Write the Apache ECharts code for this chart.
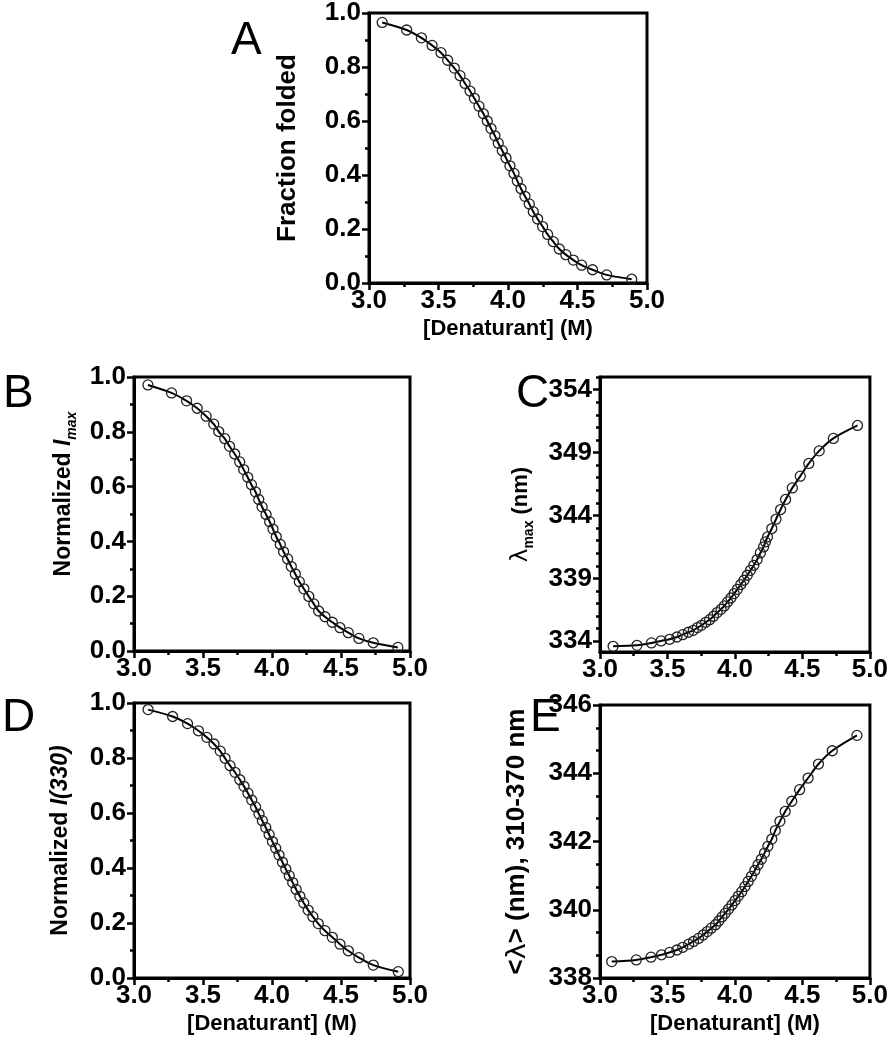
<!DOCTYPE html>
<html>
<head>
<meta charset="utf-8">
<script src="https://cdn.jsdelivr.net/npm/echarts@6/dist/echarts.min.js"></script>
<style>
html,body{margin:0;padding:0;background:#fff;}
#chart{width:891px;height:1050px;}
</style>
</head>
<body>
<div id="chart"></div>
<script>
// ---- Data ----
const xTicks = [3.0, 3.5, 4.0, 4.5, 5.0];
const fracTicks = [0.0, 0.2, 0.4, 0.6, 0.8, 1.0];
const lambdaMaxTicks = [334, 339, 344, 349, 354];
const meanLambdaTicks = [338, 340, 342, 344, 346];

// A: Fraction folded
const xA = [3.095,3.271,3.377,3.454,3.518,3.566,3.614,3.655,3.691,3.727,3.758,3.791,3.823,3.851,3.878,3.906,3.930,3.959,3.986,4.014,4.043,4.067,4.094,4.122,4.153,4.182,4.213,4.249,4.285,4.326,4.369,4.416,4.470,4.530,4.608,4.710,4.890];
const yA = [0.965,0.937,0.908,0.880,0.853,0.825,0.796,0.768,0.739,0.711,0.684,0.655,0.627,0.600,0.572,0.545,0.518,0.490,0.463,0.434,0.406,0.378,0.349,0.321,0.293,0.264,0.237,0.209,0.180,0.153,0.126,0.105,0.085,0.066,0.049,0.030,0.014];

// B: Normalized Imax
const xB = [3.101,3.272,3.381,3.458,3.523,3.578,3.614,3.658,3.692,3.730,3.766,3.795,3.824,3.851,3.880,3.904,3.928,3.957,3.983,4.007,4.031,4.060,4.084,4.113,4.140,4.169,4.198,4.231,4.267,4.303,4.338,4.384,4.437,4.493,4.553,4.630,4.734,4.912];
const yB = [0.971,0.942,0.913,0.886,0.857,0.828,0.801,0.775,0.747,0.719,0.690,0.662,0.634,0.607,0.581,0.553,0.526,0.498,0.472,0.445,0.417,0.389,0.362,0.336,0.308,0.281,0.253,0.227,0.199,0.172,0.146,0.125,0.105,0.085,0.067,0.046,0.030,0.013];

// C: lambda max (nm)
const xC = [3.097,3.274,3.381,3.453,3.516,3.570,3.613,3.655,3.691,3.722,3.752,3.783,3.812,3.841,3.868,3.897,3.921,3.945,3.970,3.994,4.018,4.043,4.067,4.091,4.115,4.140,4.164,4.188,4.212,4.226,4.241,4.273,4.304,4.338,4.375,4.425,4.484,4.547,4.624,4.729,4.908];
const yC = [333.60,333.68,333.87,334.03,334.16,334.34,334.53,334.72,334.87,335.09,335.27,335.51,335.72,335.99,336.28,336.54,336.81,337.13,337.44,337.79,338.13,338.51,338.85,339.25,339.64,340.04,340.49,341.02,341.50,341.90,342.29,342.96,343.70,344.47,345.27,346.19,347.12,348.13,349.13,350.12,351.15];

// D: Normalized I(330)
const xD = [3.102,3.280,3.388,3.467,3.528,3.580,3.625,3.660,3.696,3.732,3.767,3.797,3.826,3.853,3.881,3.906,3.930,3.955,3.979,4.003,4.027,4.051,4.076,4.100,4.125,4.150,4.175,4.202,4.230,4.262,4.296,4.335,4.384,4.437,4.493,4.553,4.630,4.734,4.915];
const yD = [0.976,0.951,0.925,0.899,0.875,0.851,0.825,0.799,0.772,0.748,0.721,0.697,0.672,0.647,0.622,0.596,0.572,0.547,0.522,0.496,0.472,0.447,0.421,0.396,0.372,0.347,0.322,0.297,0.273,0.247,0.223,0.198,0.172,0.148,0.123,0.099,0.074,0.047,0.023];

// E: <lambda> (nm), 310-370 nm
const xE = [3.087,3.269,3.378,3.456,3.516,3.570,3.613,3.657,3.693,3.730,3.764,3.795,3.824,3.856,3.880,3.904,3.928,3.953,3.977,4.001,4.025,4.050,4.074,4.098,4.122,4.147,4.171,4.195,4.219,4.244,4.273,4.299,4.333,4.372,4.421,4.479,4.542,4.619,4.721,4.904];
const yE = [338.48,338.53,338.61,338.68,338.75,338.82,338.90,338.99,339.07,339.16,339.26,339.36,339.46,339.56,339.67,339.79,339.90,340.02,340.14,340.27,340.40,340.53,340.68,340.83,340.98,341.15,341.32,341.48,341.66,341.86,342.07,342.32,342.59,342.88,343.18,343.52,343.86,344.27,344.66,345.11];

// ---- Styling ----
const FONT = 'Liberation Sans, Arial, Helvetica, sans-serif';
const TICK_FS = 26;
const XNAME_FS = 22;

const zip = (xs, ys) => xs.map((x, i) => [x, ys[i]]);

const grids = [
  {left: 369, top: 7,   width: 278, height: 276}, // A
  {left: 134, top: 377, width: 276, height: 274}, // B
  {left: 600, top: 377, width: 275, height: 275}, // C
  {left: 134, top: 703, width: 276, height: 275}, // D
  {left: 600, top: 705, width: 275, height: 273}  // E
].map(g => Object.assign({show: true, borderColor: '#000', borderWidth: 3, backgroundColor: 'transparent', containLabel: false}, g));

function xAxis(gi, withName) {
  return {
    type: 'value', gridIndex: gi, min: 3, max: 5, interval: 0.5,
    axisLine: {show: true, onZero: false, lineStyle: {color: '#000', width: 3}},
    axisTick: {show: true, inside: false, length: 7, lineStyle: {color: '#000', width: 2.5}},
    minorTick: {show: true, splitNumber: 2, length: 4, lineStyle: {color: '#000', width: 2.5}},
    splitLine: {show: false},
    axisLabel: {show: true, margin: 5, color: '#000', fontFamily: FONT, fontWeight: 'bold', fontSize: TICK_FS,
      formatter: v => v.toFixed(1)},
    name: withName ? '[Denaturant] (M)' : '',
    nameLocation: 'middle', nameGap: 35,
    nameTextStyle: {color: '#000', fontFamily: FONT, fontWeight: 'bold', fontSize: XNAME_FS}
  };
}

function mkRich(fs) {
  const sub = Math.round(fs * 0.62);
  const lh = fs + 4;
  return {
    b: {fontFamily: FONT, fontWeight: 'bold', fontSize: fs, color: '#000', lineHeight: lh, verticalAlign: 'top'},
    i: {fontFamily: FONT, fontWeight: 'bold', fontStyle: 'italic', fontSize: fs, color: '#000', lineHeight: lh, verticalAlign: 'top'},
    l: {fontFamily: 'DejaVu Sans, ' + FONT, fontWeight: 'normal', fontSize: fs + 1, color: '#000', lineHeight: lh, verticalAlign: 'top'},
    si: {fontFamily: FONT, fontWeight: 'bold', fontStyle: 'italic', fontSize: sub, color: '#000', lineHeight: sub, verticalAlign: 'bottom', padding: [lh - sub + 5, 0, 0, 0]},
    s: {fontFamily: FONT, fontWeight: 'bold', fontSize: sub, color: '#000', lineHeight: sub, verticalAlign: 'bottom', padding: [lh - sub + 5, 0, 0, 0]}
  };
}

function yAxisBase(gi, min, max, name, fs, gap, pad) {
  return {
    type: 'value', gridIndex: gi, min: min, max: max, position: 'left',
    axisLine: {show: true, onZero: false, lineStyle: {color: '#000', width: 3}},
    axisTick: {show: true, inside: false, length: 7, lineStyle: {color: '#000', width: 2.5}},
    splitLine: {show: false},
    axisLabel: {show: true, margin: 8, color: '#000', fontFamily: FONT, fontWeight: 'bold', fontSize: TICK_FS},
    name: name, nameLocation: 'middle', nameGap: gap, nameRotate: 90,
    nameTextStyle: {color: '#000', fontFamily: FONT, fontWeight: 'bold', fontSize: fs, rich: mkRich(fs),
      padding: pad || 0}
  };
}

const fracMinor = {show: true, splitNumber: 2, length: 4, lineStyle: {color: '#000', width: 2.5}};

// A y
const yA_ax = yAxisBase(0, 0, 1, '{b|Fraction folded}', 26, 64);
Object.assign(yA_ax, {interval: 0.2, minorTick: fracMinor});
yA_ax.axisLabel.formatter = v => v.toFixed(1);

const yB_ax = yAxisBase(1, 0, 1, '{b|Normalized }{i|I}{si|max}', 23, 55, [0, 0, 0, 40]);
Object.assign(yB_ax, {interval: 0.2, minorTick: fracMinor});
yB_ax.axisLabel.formatter = v => v.toFixed(1);

const yC_ax = yAxisBase(2, 333.15, 355, '{l|λ}{s|max}{b| (nm)}', 22, 64);
yC_ax.axisTick.customValues = lambdaMaxTicks;
yC_ax.axisLabel.customValues = lambdaMaxTicks;
yC_ax.axisLabel.formatter = v => String(Math.round(v));
const minorC = [];
for (let v = 334; v <= 355; v++) { if (!lambdaMaxTicks.includes(v)) minorC.push(v); }
const yC_minor = {
  type: 'value', gridIndex: 2, min: 333.15, max: 355, position: 'left', offset: 0,
  axisLine: {show: false}, splitLine: {show: false},
  axisLabel: {show: false},
  axisTick: {show: true, inside: false, length: 4, customValues: minorC, lineStyle: {color: '#000', width: 2.5}}
};

const yD_ax = yAxisBase(3, 0, 1, '{b|Normalized }{i|I(330)}', 23, 58);
Object.assign(yD_ax, {interval: 0.2, minorTick: fracMinor});
yD_ax.axisLabel.formatter = v => v.toFixed(1);

const yE_ax = yAxisBase(4, 338, 346, '{b|<}{l|λ}{b|> (nm), 310-370 nm}', 26, 66);
Object.assign(yE_ax, {interval: 2,
  minorTick: {show: true, splitNumber: 3, length: 4, lineStyle: {color: '#000', width: 2.5}}});
yE_ax.axisLabel.formatter = v => String(Math.round(v));

function series(xi, yi, data) {
  return {
    type: 'line', xAxisIndex: xi, yAxisIndex: yi, data: data,
    smooth: 0.3, symbol: 'circle', symbolSize: 10, showSymbol: true,
    lineStyle: {color: '#000', width: 2},
    itemStyle: {color: 'rgba(255,255,255,0)', borderColor: '#222', borderWidth: 1.3},
    emphasis: {disabled: true}, animation: false, z: 3
  };
}

const letter = (t, left, top) => ({
  type: 'text', left: left, top: top,
  style: {text: t, fill: '#000', font: 'normal 46px ' + FONT}
});

const option = {
  animation: false,
  backgroundColor: '#fff',
  grid: grids,
  xAxis: [xAxis(0, true), xAxis(1, false), xAxis(2, false), xAxis(3, true), xAxis(4, true)],
  yAxis: [yA_ax, yB_ax, yC_ax, yD_ax, yE_ax, yC_minor],
  series: [
    series(0, 0, zip(xA, yA)),
    series(1, 1, zip(xB, yB)),
    series(2, 2, zip(xC, yC)),
    series(3, 3, zip(xD, yD)),
    series(4, 4, zip(xE, yE))
  ],
  graphic: [
    letter('A', 231, 18),
    letter('B', 3, 371),
    letter('C', 516, 371),
    letter('D', 2, 695),
    letter('E', 530, 695)
  ]
};

const chart = echarts.init(document.getElementById('chart'), null, {renderer: 'canvas'});
chart.setOption(option);
</script>
</body>
</html>
